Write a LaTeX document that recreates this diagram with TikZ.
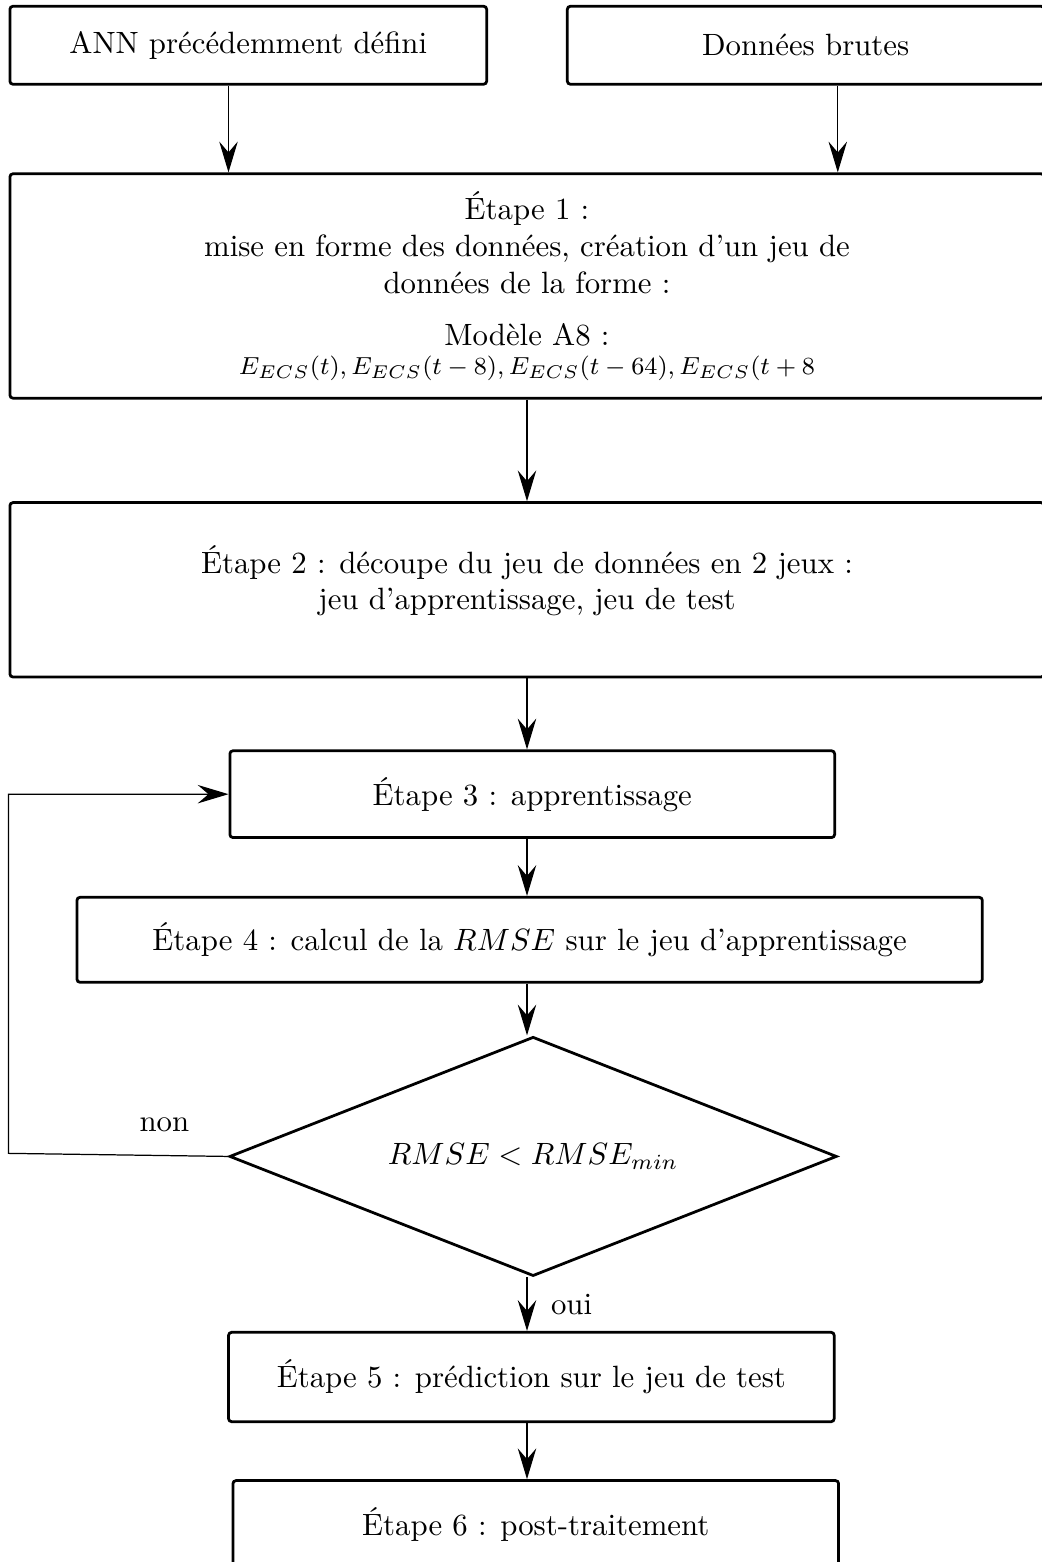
\documentclass[tikz,border=0pt]{standalone}
\usepackage{fontspec}
\usepackage{amsmath}
\usepackage{tikz}
\usetikzlibrary{calc, positioning, shapes.geometric, arrows.meta}

\begin{document}
\begin{tikzpicture}[
  >={Stealth[length=10pt,width=6pt,inset=3.5pt]},
  etape/.style={draw, line width=0.9pt, rounded corners=1pt, align=center, inner sep=3pt},
  decision/.style={draw, diamond, aspect=2.54, line width=0.9pt, inner sep=0pt,
                   minimum width=6.93cm, minimum height=2.73cm},
  flow/.style={->, line width=0.4pt}
]
\useasboundingbox (-6.013,-14.559) rectangle (5.865,3.263);

\node[etape, minimum width=11.80cm, minimum height=2.56cm] (etape1) at (0,0)
  {Étape 1 :\\ mise en forme des données, création d'un jeu de\\ données de la forme :\\[5pt]
   Modèle A8 :\\[-2.5pt] {\footnotesize $E_{ECS}(t), E_{ECS}(t-8), E_{ECS}(t-64), E_{ECS}(t+8$}};
\node[etape, minimum width=5.44cm, minimum height=0.89cm, above right=0.99cm and 0cm of etape1.north west] (ann)
  {ANN précédemment défini};
\node[etape, minimum width=5.44cm, minimum height=0.89cm, above left=0.99cm and 0cm of etape1.north east] (brutes)
  {Données brutes};

\node[etape, minimum width=11.80cm, minimum height=1.99cm, below=1.16cm of etape1] (etape2)
  {Étape 2 : découpe du jeu de données en 2 jeux :\\ jeu d'apprentissage, jeu de test\\[-4pt]\mbox{}};
\node[etape, minimum width=6.90cm, minimum height=0.99cm, below=0.81cm of etape2, xshift=0.06cm] (etape3)
  {Étape 3 : apprentissage};
\node[etape, minimum width=10.33cm, minimum height=0.97cm, below=0.65cm of etape3, xshift=-0.03cm] (etape4)
  {Étape 4 : calcul de la $RMSE$ sur le jeu d'apprentissage};
\node[decision, below=0.59cm of etape4, xshift=0.04cm] (test)
  {$RMSE < RMSE_{min}$};
\node[etape, minimum width=6.91cm, minimum height=1.02cm, below=0.61cm of test, xshift=-0.02cm] (etape5)
  {Étape 5 : prédiction sur le jeu de test};
\node[etape, minimum width=6.91cm, minimum height=1.0cm, below=0.64cm of etape5, xshift=0.05cm] (etape6)
  {Étape 6 : post-traitement};

\coordinate (retour) at ([yshift=0.035cm]etape1.west |- test.west);

\draw[flow] ([xshift=2.51cm]ann.south west) -- ([xshift=2.51cm]etape1.north west);
\draw[flow] ([xshift=-2.37cm]brutes.south east) -- ([xshift=-2.37cm]etape1.north east);
\draw[flow] (etape1.south) -- (etape2.north);
\draw[flow] (etape2.south) -- (etape1.center |- etape3.north);
\draw[flow] (etape3.south -| etape1.center) -- (etape1.center |- etape4.north);
\draw[flow] (etape4.south -| etape1.center) -- (etape1.center |- test.north);
\draw[flow] (test.south -| etape1.center) -- node[right=1.5mm]{oui} (etape1.center |- etape5.north);
\draw[flow] (etape5.south -| etape1.center) -- (etape1.center |- etape6.north);
\draw[flow] (test.west) -- node[above=1.5mm, pos=0.29]{non} (retour) |- (etape3.west);
\end{tikzpicture}
\end{document}
